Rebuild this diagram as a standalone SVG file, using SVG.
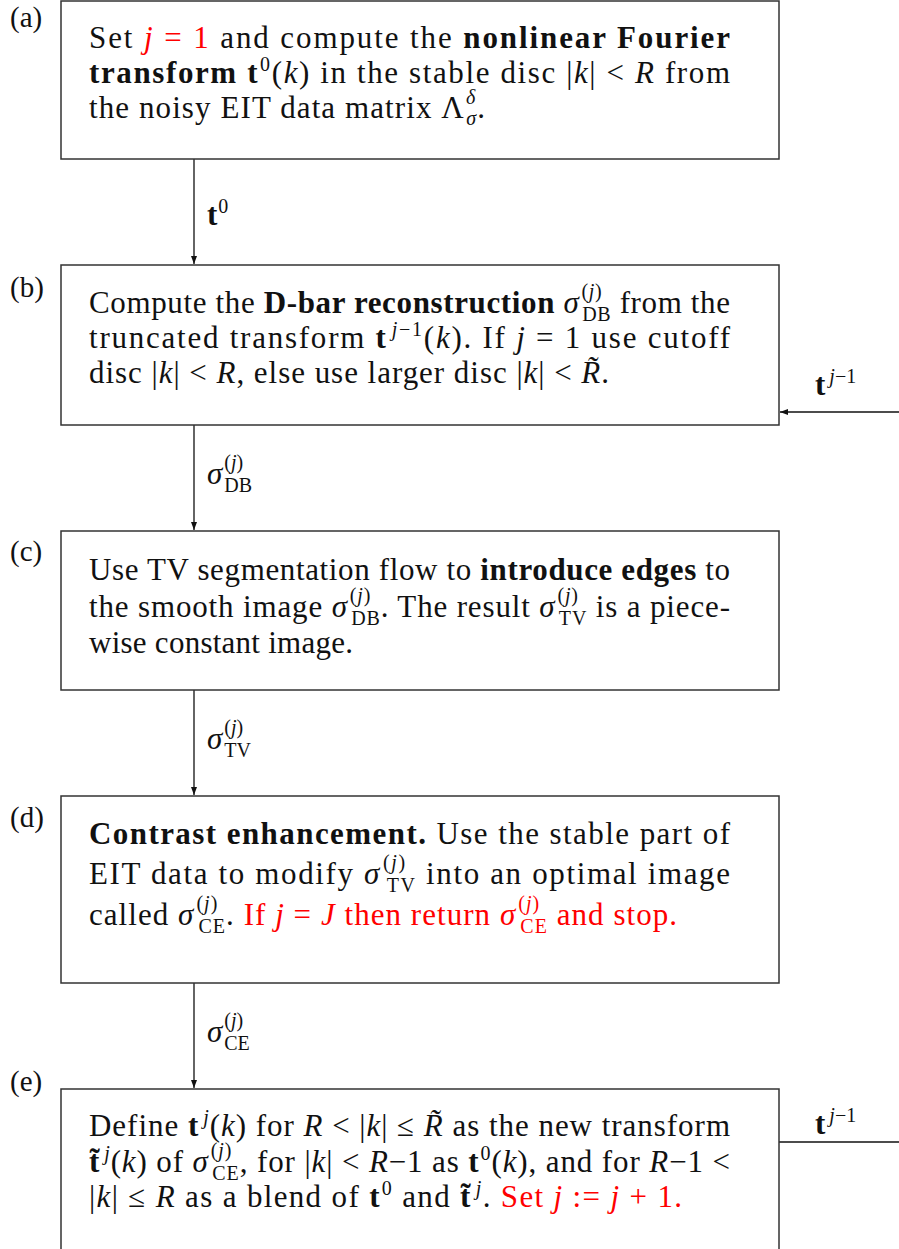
<svg xmlns="http://www.w3.org/2000/svg" width="899" height="1249" viewBox="0 0 899 1249">
<style>
text{font-family:"Liberation Serif","Times New Roman",serif;font-size:31px;fill:#111}
.lbl{font-size:29px}
.b{font-weight:bold}
.i{font-style:italic}
.r{fill:#ff0000}
.s{font-size:20px}
.box{fill:#fff;stroke:#333;stroke-width:1.5}
.edge{stroke:#111;stroke-width:1.3;fill:none}
</style>
<defs>
<marker id="ah" markerUnits="userSpaceOnUse" markerWidth="9" markerHeight="7" refX="8" refY="3" orient="auto">
<path d="M0,0 L8,3 L0,6 z" fill="#111"/>
</marker>
</defs>

<g id="connectors">
<line class="edge" x1="194" y1="159" x2="194" y2="264" marker-end="url(#ah)"/>
<line class="edge" x1="194" y1="425" x2="194" y2="530" marker-end="url(#ah)"/>
<line class="edge" x1="194" y1="690" x2="194" y2="795" marker-end="url(#ah)"/>
<line class="edge" x1="194" y1="983" x2="194" y2="1088" marker-end="url(#ah)"/>
<line class="edge" x1="899" y1="412" x2="780" y2="412" marker-end="url(#ah)"/>
<line class="edge" x1="779" y1="1142" x2="899" y2="1142"/>
<text x="207" y="225"><tspan class="b">t</tspan><tspan class="s" dx="1" dy="-12">0</tspan></text>
<text x="207" y="484"><tspan class="i">σ</tspan><tspan class="s" dx="2" dy="-15">(<tspan class="i">j</tspan>)</tspan><tspan class="s" dx="-19" dy="23">DB</tspan></text>
<text x="207" y="749"><tspan class="i">σ</tspan><tspan class="s" dx="2" dy="-15">(<tspan class="i">j</tspan>)</tspan><tspan class="s" dx="-19" dy="23">TV</tspan></text>
<text x="207" y="1042"><tspan class="i">σ</tspan><tspan class="s" dx="2" dy="-15">(<tspan class="i">j</tspan>)</tspan><tspan class="s" dx="-19" dy="23">CE</tspan></text>
<text x="815" y="395"><tspan class="b">t</tspan><tspan class="s" dx="4" dy="-12"><tspan class="i">j</tspan>−1</tspan></text>
<text x="815" y="1134"><tspan class="b">t</tspan><tspan class="s" dx="4" dy="-12"><tspan class="i">j</tspan>−1</tspan></text>
</g>

<g id="node-a">
<rect class="box" x="61" y="1" width="718" height="158"/>
<text class="lbl" x="10" y="27">(a)</text>
<text x="89" y="48" textLength="641" lengthAdjust="spacing">Set <tspan class="r"><tspan class="i">j</tspan> = 1</tspan> and compute the <tspan class="b">nonlinear Fourier</tspan></text>
<text x="89" y="83" textLength="641" lengthAdjust="spacing"><tspan class="b">transform t</tspan><tspan class="s" dx="1" dy="-12">0</tspan><tspan dy="12">(</tspan><tspan class="i">k</tspan>) in the stable disc |<tspan class="i">k</tspan>| &lt; <tspan class="i">R</tspan> from</text>
<text x="89" y="118" textLength="396" lengthAdjust="spacing">the noisy EIT data matrix Λ<tspan class="s i" dx="1" dy="-14">δ</tspan><tspan class="s i" dx="-10" dy="21">σ</tspan><tspan dy="-7">.</tspan></text>
</g>

<g id="node-b">
<rect class="box" x="61" y="265" width="718" height="160"/>
<text class="lbl" x="10" y="297">(b)</text>
<text x="89" y="313" textLength="641" lengthAdjust="spacing">Compute the <tspan class="b">D-bar reconstruction</tspan> <tspan class="i">σ</tspan><tspan class="s" dx="2" dy="-15">(<tspan class="i">j</tspan>)</tspan><tspan class="s" dx="-20" dy="23">DB</tspan><tspan dy="-8"> from the</tspan></text>
<text x="89" y="348" textLength="641" lengthAdjust="spacing">truncated transform <tspan class="b">t</tspan><tspan class="s" dx="4" dy="-12"><tspan class="i">j</tspan>−1</tspan><tspan dy="12">(</tspan><tspan class="i">k</tspan>). If <tspan class="i">j</tspan> = 1 use cutoff</text>
<text x="89" y="383" textLength="520" lengthAdjust="spacing">disc |<tspan class="i">k</tspan>| &lt; <tspan class="i">R</tspan>, else use larger disc |<tspan class="i">k</tspan>| &lt; <tspan class="i">R̃</tspan>.</text>
</g>

<g id="node-c">
<rect class="box" x="61" y="531" width="718" height="159"/>
<text class="lbl" x="10" y="561">(c)</text>
<text x="89" y="580" textLength="641" lengthAdjust="spacing">Use TV segmentation flow to <tspan class="b">introduce edges</tspan> to</text>
<text x="89" y="617" textLength="641" lengthAdjust="spacing">the smooth image <tspan class="i">σ</tspan><tspan class="s" dx="2" dy="-15">(<tspan class="i">j</tspan>)</tspan><tspan class="s" dx="-20" dy="23">DB</tspan><tspan dy="-8">. The result </tspan><tspan class="i">σ</tspan><tspan class="s" dx="2" dy="-15">(<tspan class="i">j</tspan>)</tspan><tspan class="s" dx="-20" dy="23">TV</tspan><tspan dy="-8"> is a piece-</tspan></text>
<text x="89" y="653" textLength="264" lengthAdjust="spacing">wise constant image.</text>
</g>

<g id="node-d">
<rect class="box" x="61" y="796" width="718" height="187"/>
<text class="lbl" x="10" y="827">(d)</text>
<text x="89" y="844" textLength="641" lengthAdjust="spacing"><tspan class="b">Contrast enhancement.</tspan> Use the stable part of</text>
<text x="89" y="884" textLength="641" lengthAdjust="spacing">EIT data to modify <tspan class="i">σ</tspan><tspan class="s" dx="2" dy="-15">(<tspan class="i">j</tspan>)</tspan><tspan class="s" dx="-20" dy="23">TV</tspan><tspan dy="-8"> into an optimal image</tspan></text>
<text x="89" y="925" textLength="588" lengthAdjust="spacing">called <tspan class="i">σ</tspan><tspan class="s" dx="2" dy="-15">(<tspan class="i">j</tspan>)</tspan><tspan class="s" dx="-20" dy="23">CE</tspan><tspan dy="-8">. </tspan><tspan class="r">If <tspan class="i">j</tspan> = <tspan class="i">J</tspan> then return <tspan class="i">σ</tspan><tspan class="s" dx="2" dy="-15">(<tspan class="i">j</tspan>)</tspan><tspan class="s" dx="-20" dy="23">CE</tspan><tspan dy="-8"> and stop.</tspan></tspan></text>
</g>

<g id="node-e">
<rect class="box" x="61" y="1089" width="718" height="220"/>
<text class="lbl" x="10" y="1091">(e)</text>
<text x="89" y="1136" textLength="641" lengthAdjust="spacing">Define <tspan class="b">t</tspan><tspan class="s i" dx="4" dy="-12">j</tspan><tspan dy="12">(</tspan><tspan class="i">k</tspan>) for <tspan class="i">R</tspan> &lt; |<tspan class="i">k</tspan>| ≤ <tspan class="i">R̃</tspan> as the new transform</text>
<text x="89" y="1172" textLength="641" lengthAdjust="spacing"><tspan class="b">t̃</tspan><tspan class="s i" dx="4" dy="-12">j</tspan><tspan dy="12">(</tspan><tspan class="i">k</tspan>) of <tspan class="i">σ</tspan><tspan class="s" dx="2" dy="-15">(<tspan class="i">j</tspan>)</tspan><tspan class="s" dx="-20" dy="23">CE</tspan><tspan dy="-8">, for |</tspan><tspan class="i">k</tspan>| &lt; <tspan class="i">R</tspan>−1 as <tspan class="b">t</tspan><tspan class="s" dx="1" dy="-12">0</tspan><tspan dy="12">(</tspan><tspan class="i">k</tspan>), and for <tspan class="i">R</tspan>−1 &lt;</text>
<text x="89" y="1207" textLength="593" lengthAdjust="spacing">|<tspan class="i">k</tspan>| ≤ <tspan class="i">R</tspan> as a blend of <tspan class="b">t</tspan><tspan class="s" dx="1" dy="-12">0</tspan><tspan dy="12"> and </tspan><tspan class="b">t̃</tspan><tspan class="s i" dx="4" dy="-12">j</tspan><tspan dy="12">. </tspan><tspan class="r">Set <tspan class="i">j</tspan> := <tspan class="i">j</tspan> + 1.</tspan></text>
</g>
</svg>
